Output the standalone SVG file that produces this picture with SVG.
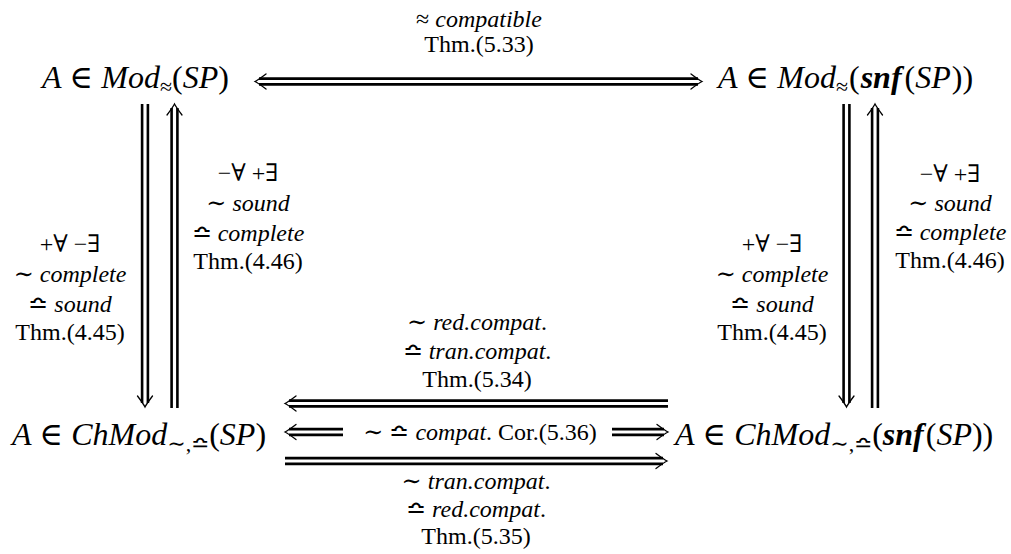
<svg xmlns="http://www.w3.org/2000/svg" xmlns:xlink="http://www.w3.org/1999/xlink" width="1011" height="554" viewBox="0 0 1011 554">
<style>
text{font-family:'Liberation Serif','DejaVu Serif',serif;fill:#000}
.m{font-size:32px}
.i{font-style:italic}
.b{font-weight:bold;font-style:italic}
.sub{font-size:22px}
.l{font-size:24px;text-anchor:middle}
.dl{stroke:#000;stroke-width:2.6;fill:none}
.hd{stroke:#000;stroke-width:1.3;fill:none;stroke-linecap:round}
</style>
<defs>
<path id="head" class="hd" d="M-11,-7.5 Q-3,-1.5 0,0 Q-3,1.5 -11,7.5"/>
</defs>
<rect width="1011" height="554" fill="#fff"/>
<g id="n1"><text class="m" x="42" y="88"><tspan class="i">A</tspan> ∈ <tspan class="i">Mod</tspan><tspan class="sub" dy="6">≈</tspan><tspan dy="-6">(</tspan><tspan class="i">SP</tspan>)</text></g>
<g id="n2"><text class="m" x="718" y="88"><tspan class="i">A</tspan> ∈ <tspan class="i">Mod</tspan><tspan class="sub" dy="6">≈</tspan><tspan dy="-6" dx="1">(</tspan><tspan class="b" dx="1">snf</tspan><tspan dx="3">(</tspan><tspan class="i">SP</tspan><tspan dx="1">))</tspan></text></g>
<g id="n3"><text class="m" x="12" y="445"><tspan class="i">A</tspan> ∈ <tspan class="i">ChMod</tspan><tspan class="sub" dy="6">∼,≏</tspan><tspan dy="-6">(</tspan><tspan class="i">SP</tspan>)</text></g>
<g id="n4"><text class="m" x="675" y="445"><tspan class="i">A</tspan> ∈ <tspan class="i">ChMod</tspan><tspan class="sub" dy="6">∼,≏</tspan><tspan dy="-6">(</tspan><tspan class="b">snf</tspan><tspan dx="2">(</tspan><tspan class="i">SP</tspan>))</text></g>
<g id="connectors">
<path class="dl" d="M259,78.6H698M259,84.4H698"/>
<use xlink:href="#head" transform="translate(255,81.5) rotate(180)"/>
<use xlink:href="#head" transform="translate(702,81.5)"/>
<path class="dl" d="M142.1,104V403M147.9,104V403"/>
<use xlink:href="#head" transform="translate(145,407) rotate(90)"/>
<path class="dl" d="M171.6,108V408M177.4,108V408"/>
<use xlink:href="#head" transform="translate(174.5,104) rotate(-90)"/>
<path class="dl" d="M843.6,104V403M849.4,104V403"/>
<use xlink:href="#head" transform="translate(846.5,407) rotate(90)"/>
<path class="dl" d="M872.1,108V408M877.9,108V408"/>
<use xlink:href="#head" transform="translate(875,104) rotate(-90)"/>
<path class="dl" d="M289,400.6H668M289,406.4H668"/>
<use xlink:href="#head" transform="translate(285,403.5) rotate(180)"/>
<path class="dl" d="M289,429.1H343M289,434.9H343"/>
<use xlink:href="#head" transform="translate(285,432) rotate(180)"/>
<path class="dl" d="M612,429.1H664M612,434.9H664"/>
<use xlink:href="#head" transform="translate(668,432)"/>
<path class="dl" d="M285,458.1H663M285,463.9H663"/>
<use xlink:href="#head" transform="translate(667,461)"/>
</g>
<g id="labels">
<text class="l" x="479" y="27">≈ <tspan class="i">compatible</tspan></text>
<text class="l" x="479" y="52">Thm.(5.33)</text>
<text class="l" x="70" y="252">+∀ −∃</text>
<text class="l" x="70" y="282">∼ <tspan class="i">complete</tspan></text>
<text class="l" x="70" y="312">≏ <tspan class="i">sound</tspan></text>
<text class="l" x="70" y="340">Thm.(4.45)</text>
<text class="l" x="248" y="181">−∀ +∃</text>
<text class="l" x="248" y="211">∼ <tspan class="i">sound</tspan></text>
<text class="l" x="248" y="241">≏ <tspan class="i">complete</tspan></text>
<text class="l" x="248" y="269">Thm.(4.46)</text>
<text class="l" x="772" y="252">+∀ −∃</text>
<text class="l" x="772" y="282">∼ <tspan class="i">complete</tspan></text>
<text class="l" x="772" y="312">≏ <tspan class="i">sound</tspan></text>
<text class="l" x="772" y="340">Thm.(4.45)</text>
<text class="l" x="950" y="182">−∀ +∃</text>
<text class="l" x="950" y="211">∼ <tspan class="i">sound</tspan></text>
<text class="l" x="950" y="240">≏ <tspan class="i">complete</tspan></text>
<text class="l" x="950" y="268">Thm.(4.46)</text>
<text class="l" x="477" y="330">∼ <tspan class="i">red.compat</tspan>.</text>
<text class="l" x="477" y="359">≏ <tspan class="i">tran.compat</tspan>.</text>
<text class="l" x="477" y="387">Thm.(5.34)</text>
<text class="l" x="480" y="440">∼ ≏ <tspan class="i">compat</tspan>. Cor.(5.36)</text>
<text class="l" x="476" y="489">∼ <tspan class="i">tran.compat</tspan>.</text>
<text class="l" x="476" y="517">≏ <tspan class="i">red.compat</tspan>.</text>
<text class="l" x="476" y="544">Thm.(5.35)</text>
</g>
</svg>
